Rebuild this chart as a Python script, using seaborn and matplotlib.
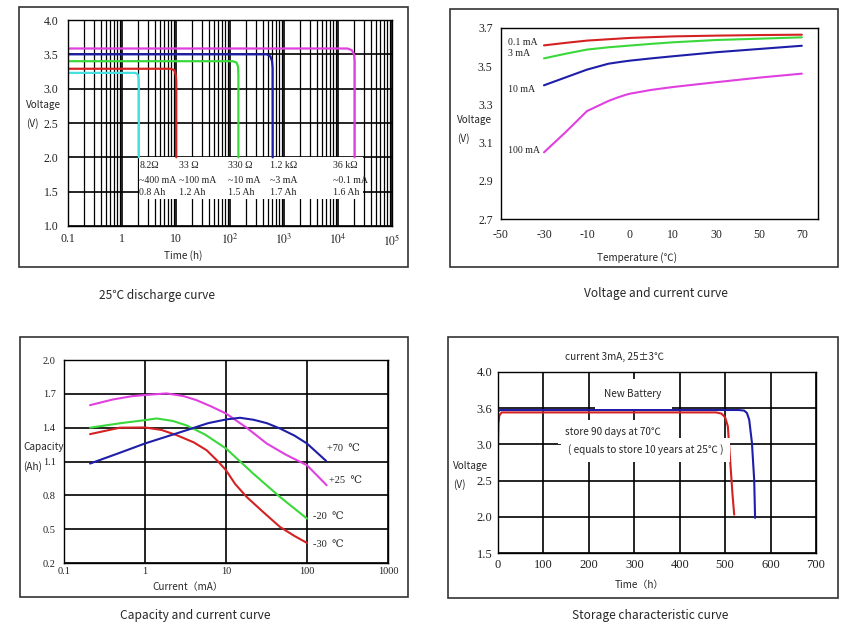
import numpy as np
import matplotlib
matplotlib.use('Agg')
import matplotlib.pyplot as plt
import seaborn as sns
from matplotlib.patches import Rectangle
from matplotlib.ticker import LogLocator, NullFormatter, NullLocator, MultipleLocator

sns.set_theme(style='white')
plt.rcParams['font.family'] = ['Noto Sans CJK SC', 'DejaVu Sans']
plt.rcParams['mathtext.fontset'] = 'stix'
SERIF = ['Liberation Serif', 'DejaVu Serif']
SANS = ['Noto Sans CJK SC', 'DejaVu Sans']
LAB = 7.2    # axis label size
CAP = 8.6    # caption size
ANN = 7.1    # serif annotations inside plots

# ---- 25℃ discharge curve (time h, voltage V) ----
cyan_t = [0.1, 1.75, 1.95, 2.03, 2.05, 2.05]
cyan_v = [3.23, 3.23, 3.21, 3.15, 3.05, 2.0]
red_t = [0.1, 8.0, 9.3, 9.9, 10.1, 10.1]
red_v = [3.29, 3.29, 3.27, 3.20, 3.10, 2.0]
green_t = [0.1, 112, 132, 141, 143, 143]
green_v = [3.40, 3.40, 3.38, 3.32, 3.20, 2.0]
blue_t = [0.1, 480, 560, 600, 615, 617]
blue_v = [3.50, 3.50, 3.47, 3.40, 3.30, 2.0]
mag_t = [0.1, 15000, 18000, 19800, 20300, 20300]
mag_v = [3.585, 3.585, 3.56, 3.50, 3.40, 2.0]
load_labels = [['8.2Ω', '~400 mA', '0.8 Ah'],
               ['33 Ω', '~100 mA', '1.2 Ah'],
               ['330 Ω', '~10 mA', '1.5 Ah'],
               ['1.2 kΩ', '~3 mA', '1.7 Ah'],
               ['36 kΩ', '~0.1 mA', '1.6 Ah']]
dis_yticks = [1.0, 1.5, 2.0, 2.5, 3.0, 3.5, 4.0]
dis_xticks = [0.1, 1, 10, 100, 1000, 10000, 100000]
dis_xlabels = ['0.1', '1', '10', '$10^2$', '$10^3$', '$10^4$', '$10^5$']

# ---- Voltage and current curve (temperature ℃, voltage V) ----
temp_ticks = [-50, -30, -10, 0, 10, 30, 50, 70]
i01_t = [-30, -20, -10, -5, 0, 5, 10, 30, 50, 70]
i01_v = [3.609, 3.622, 3.634, 3.641, 3.648, 3.652, 3.656, 3.660, 3.663, 3.665]
i3_t = [-30, -20, -10, -5, 0, 5, 10, 30, 50, 70]
i3_v = [3.541, 3.565, 3.587, 3.599, 3.608, 3.617, 3.625, 3.637, 3.644, 3.651]
i10_t = [-30, -20, -10, -5, -2, 0, 5, 10, 30, 50, 70]
i10_v = [3.400, 3.441, 3.482, 3.513, 3.523, 3.529, 3.541, 3.552, 3.573, 3.590, 3.607]
i100_t = [-30, -20, -10, -5, -3, -1, 0, 5, 10, 30, 50, 70]
i100_v = [3.049, 3.154, 3.265, 3.318, 3.335, 3.350, 3.356, 3.376, 3.391, 3.416, 3.440, 3.461]
vc_labels = ['0.1 mA', '3 mA', '10 mA', '100 mA']

# ---- Capacity and current curve (current mA, capacity Ah) ----
m30_i = [0.21, 0.49, 1.0, 1.6, 2.46, 4.0, 5.77, 8.0, 10, 13, 18, 28, 46.4, 70, 100]
m30_c = [1.343, 1.40, 1.402, 1.38, 1.334, 1.27, 1.20, 1.10, 1.023, 0.90, 0.786, 0.66,
         0.52, 0.44, 0.378]
m20_i = [0.21, 0.5, 1.0, 1.39, 2.2, 3.27, 5.5, 10, 21.7, 46.4, 100]
m20_c = [1.40, 1.44, 1.467, 1.482, 1.46, 1.42, 1.34, 1.216, 0.993, 0.786, 0.594]
p25_i = [0.21, 0.4, 0.7, 1.0, 1.85, 3.0, 4.3, 6.5, 10, 18, 31.8, 55, 100, 175]
p25_c = [1.60, 1.65, 1.68, 1.69, 1.704, 1.68, 1.645, 1.59, 1.526, 1.40, 1.26, 1.16,
         1.067, 0.89]
p70_i = [0.21, 0.5, 1.0, 3.27, 6.0, 10, 14.9, 22, 32, 46.4, 70, 100, 172]
p70_c = [1.082, 1.18, 1.26, 1.378, 1.44, 1.473, 1.488, 1.47, 1.44, 1.393, 1.33, 1.26, 1.106]
cap_yticks = [0.2, 0.5, 0.8, 1.1, 1.4, 1.7, 2.0]
cap_xticks = [0.1, 1, 10, 100, 1000]
cap_labels = ['+70  ℃', '+25  ℃', '-20  ℃', '-30  ℃']

# ---- Storage characteristic curve (time h, voltage V) ----
new_t = [0, 5, 100, 300, 530, 542, 548, 553, 559, 564, 566]
new_v = [3.55, 3.57, 3.57, 3.57, 3.57, 3.56, 3.52, 3.41, 3.03, 2.51, 1.985]
stored_t = [0, 1, 3, 8, 100, 300, 480, 492, 500, 506, 511, 516, 520]
stored_v = [3.0, 3.35, 3.48, 3.53, 3.53, 3.53, 3.53, 3.51, 3.45, 3.30, 2.79, 2.33, 2.03]
sto_yticks = [1.5, 2.0, 2.5, 3.0, 3.6, 4.0]
sto_xticks = [0, 100, 200, 300, 400, 500, 600, 700]

C_RED, C_GREEN, C_BLUE = '#d42222', '#3ad83a', '#1e1ea8'
C_MAG, C_CYAN = '#e040e0', '#44e0e0'

fig = plt.figure(figsize=(8.62, 6.29), dpi=100)

# panel frames
for l, b, w, h in [(0.022, 0.5755, 0.4513, 0.4134), (0.522, 0.5755, 0.450, 0.410),
                   (0.0232, 0.0509, 0.450, 0.4134), (0.5197, 0.0493, 0.4524, 0.415)]:
    fig.add_artist(Rectangle((l, b), w, h, transform=fig.transFigure,
                             fill=False, edgecolor='#333333', lw=1.2))


def frame(ax):
    for s in ax.spines.values():
        s.set_color('black')
        s.set_linewidth(1.0)
        s.set_zorder(5)


def serif_ticks(ax, size):
    for lab in ax.get_xticklabels() + ax.get_yticklabels():
        lab.set_fontfamily(SERIF)
        lab.set_fontsize(size)
        lab.set_color('#222222')


# ---------- panel 1 ----------
ax1 = fig.add_axes([0.0789, 0.6407, 0.3759, 0.3275])
for t, v, c in [(cyan_t, cyan_v, C_CYAN), (red_t, red_v, C_RED), (green_t, green_v, C_GREEN),
                (blue_t, blue_v, C_BLUE), (mag_t, mag_v, C_MAG)]:
    sns.lineplot(x=t, y=v, color=c, lw=1.6, estimator=None, sort=False, ax=ax1, zorder=3)
ax1.set_xscale('log')
ax1.set_xlim(0.1, 1e5)
ax1.set_ylim(1.0, 4.0)
ax1.set_xticks(dis_xticks)
ax1.set_xticklabels(dis_xlabels)
ax1.xaxis.set_minor_locator(LogLocator(base=10, subs=np.arange(2, 10)))
ax1.xaxis.set_minor_formatter(NullFormatter())
ax1.set_yticks(dis_yticks)
ax1.set_yticklabels([f'{y:.1f}' for y in dis_yticks])
ax1.grid(True, which='major', color='black', lw=1.2, zorder=1)
ax1.grid(True, which='minor', axis='x', color='black', lw=0.9, zorder=1)
ax1.set_axisbelow(True)
ax1.tick_params(which='both', length=0)
ax1.tick_params(axis='y', pad=7)
ax1.tick_params(axis='x', pad=5)
ax1.set_xlabel('')
ax1.set_ylabel('')
ax1.add_patch(Rectangle((2.08, 1.4), 2.9e4 - 2.08, 0.6, facecolor='white',
                        edgecolor='none', zorder=2))
label_x = [2.1, 11.5, 90, 560, 8200]
row_y = [1.878, 1.668, 1.488]
for lx, rows in zip(label_x, load_labels):
    for ry, txt in zip(row_y, rows):
        ax1.text(lx, ry, txt, fontsize=ANN, family=SERIF, va='center', ha='left',
                 color='#222222', zorder=4)
frame(ax1)
serif_ticks(ax1, 8.5)
fig.text(0.030, 0.833, 'Voltage', fontsize=LAB, family=SANS, va='center')
fig.text(0.030, 0.803, '(V)', fontsize=LAB, family=SANS, va='center')
fig.text(0.212, 0.593, 'Time (h)', fontsize=LAB, family=SANS, ha='center', va='center')
fig.text(0.182, 0.531, '25℃ discharge curve', fontsize=CAP, family=SANS,
         ha='center', va='center')

# ---------- panel 2 ----------
temp_knots = temp_ticks + [90]
knot_idx = np.arange(len(temp_knots), dtype=float)


def temp_fwd(x):
    return np.interp(x, temp_knots, knot_idx)


def temp_inv(u):
    return np.interp(u, knot_idx, temp_knots)


ax2 = fig.add_axes([0.5812, 0.6518, 0.3677, 0.3037])
for t, v, c in [(i01_t, i01_v, C_RED), (i3_t, i3_v, C_GREEN),
                (i10_t, i10_v, C_BLUE), (i100_t, i100_v, C_MAG)]:
    sns.lineplot(x=t, y=v, color=c, lw=1.5, estimator=None, ax=ax2)
ax2.set_xscale('function', functions=(temp_fwd, temp_inv))
ax2.set_xlim(-50, 77.5)
ax2.set_ylim(2.7, 3.7)
ax2.set_xticks(temp_ticks)
ax2.set_xticklabels([str(t) for t in temp_ticks])
ax2.xaxis.set_minor_locator(NullLocator())
ax2.set_yticks([2.7, 2.9, 3.1, 3.3, 3.5, 3.7])
ax2.set_yticklabels(['2.7', '2.9', '3.1', '3.3', '3.5', '3.7'])
ax2.yaxis.set_minor_locator(MultipleLocator(0.1))
ax2.tick_params(which='both', direction='in', length=4, width=0.8, color='#333333')
ax2.tick_params(axis='y', pad=6)
ax2.tick_params(axis='x', pad=7)
ax2.set_xlabel('')
ax2.set_ylabel('')
for txt, ly in zip(vc_labels, [0.923, 0.866, 0.677, 0.36]):
    ax2.text(0.021, ly, txt, transform=ax2.transAxes, fontsize=ANN, family=SERIF,
             va='center', ha='left', color='#222222')
frame(ax2)
serif_ticks(ax2, 8.5)
fig.text(0.530, 0.809, 'Voltage', fontsize=LAB, family=SANS, va='center')
fig.text(0.530, 0.779, '(V)', fontsize=LAB, family=SANS, va='center')
fig.text(0.739, 0.591, 'Temperature (℃)', fontsize=LAB, family=SANS, ha='center', va='center')
fig.text(0.761, 0.533, 'Voltage and current curve', fontsize=CAP, family=SANS,
         ha='center', va='center')

# ---------- panel 3 ----------
ax3 = fig.add_axes([0.0742, 0.1049, 0.3759, 0.3227])
for x, y, c in [(m30_i, m30_c, C_RED), (m20_i, m20_c, C_GREEN),
                (p25_i, p25_c, C_MAG), (p70_i, p70_c, C_BLUE)]:
    sns.lineplot(x=x, y=y, color=c, lw=1.5, estimator=None, ax=ax3, zorder=3)
ax3.set_xscale('log')
ax3.set_xlim(0.1, 1000)
ax3.set_ylim(0.2, 2.0)
ax3.set_xticks(cap_xticks)
ax3.set_xticklabels(['0.1', '1', '10', '100', '1000'])
ax3.xaxis.set_minor_locator(NullLocator())
ax3.set_yticks(cap_yticks)
ax3.set_yticklabels([f'{y:.1f}' for y in cap_yticks])
ax3.grid(True, which='major', color='black', lw=1.2)
ax3.set_axisbelow(True)
ax3.tick_params(which='both', length=0)
ax3.tick_params(axis='y', pad=6)
ax3.tick_params(axis='x', pad=3)
ax3.set_xlabel('')
ax3.set_ylabel('')
for txt, lx, ly in zip(cap_labels, [0.812, 0.817, 0.768, 0.770], [0.564, 0.405, 0.23, 0.09]):
    ax3.text(lx, ly, txt, transform=ax3.transAxes, fontsize=7.5, family=SERIF,
             va='center', ha='left', color='#222222')
frame(ax3)
serif_ticks(ax3, 7.5)
fig.text(0.0267, 0.289, 'Capacity', fontsize=LAB, family=SANS, va='center')
fig.text(0.0267, 0.259, '(Ah)', fontsize=LAB, family=SANS, va='center')
fig.text(0.218, 0.067, 'Current（mA）', fontsize=LAB, family=SANS, ha='center', va='center')
fig.text(0.226, 0.022, 'Capacity and current curve', fontsize=CAP, family=SANS,
         ha='center', va='center')

# ---------- panel 4 ----------
v_knots = sto_yticks
v_idx = np.arange(len(v_knots), dtype=float)


def volt_fwd(y):
    return np.interp(y, v_knots, v_idx)


def volt_inv(u):
    return np.interp(u, v_idx, v_knots)


ax4 = fig.add_axes([0.5777, 0.1208, 0.3689, 0.2878])
sns.lineplot(x=new_t, y=new_v, color=C_BLUE, lw=1.5, estimator=None, ax=ax4, zorder=3)
sns.lineplot(x=stored_t, y=stored_v, color=C_RED, lw=1.5, estimator=None, ax=ax4, zorder=3)
ax4.set_yscale('function', functions=(volt_fwd, volt_inv))
ax4.set_xlim(0, 700)
ax4.set_ylim(1.5, 4.0)
ax4.set_xticks(sto_xticks)
ax4.set_xticklabels([str(t) for t in sto_xticks])
ax4.set_yticks(sto_yticks)
ax4.set_yticklabels([f'{y:.1f}' for y in sto_yticks])
ax4.yaxis.set_minor_locator(NullLocator())
ax4.grid(True, which='major', color='black', lw=1.2)
ax4.set_axisbelow(True)
ax4.tick_params(which='both', length=0)
ax4.tick_params(axis='y', pad=4)
ax4.tick_params(axis='x', pad=4)
ax4.set_xlabel('')
ax4.set_ylabel('')
box = dict(facecolor='white', edgecolor='none', pad=5)
ax4.text(0.425, 0.878, 'New Battery', transform=ax4.transAxes, fontsize=LAB, family=SANS,
         ha='center', va='center', bbox=dict(facecolor='white', edgecolor='none', pad=7),
         zorder=4)
ax4.text(0.211, 0.669, 'store 90 days at 70℃', transform=ax4.transAxes, fontsize=LAB,
         family=SANS, ha='left', va='center', bbox=box, zorder=4)
ax4.text(0.220, 0.569, '( equals to store 10 years at 25℃ )', transform=ax4.transAxes,
         fontsize=LAB, family=SANS, ha='left', va='center', bbox=box, zorder=4)
ax4.text(0.368, 1.083, 'current 3mA, 25±3℃', transform=ax4.transAxes, fontsize=LAB,
         family=SANS, ha='center', va='center')
frame(ax4)
serif_ticks(ax4, 9)
fig.text(0.526, 0.259, 'Voltage', fontsize=LAB, family=SANS, va='center')
fig.text(0.526, 0.229, '(V)', fontsize=LAB, family=SANS, va='center')
fig.text(0.742, 0.070, 'Time（h）', fontsize=LAB, family=SANS, ha='center', va='center')
fig.text(0.754, 0.022, 'Storage characteristic curve', fontsize=CAP, family=SANS,
         ha='center', va='center')

fig.savefig('out.png', dpi=100)
plt.close(fig)
